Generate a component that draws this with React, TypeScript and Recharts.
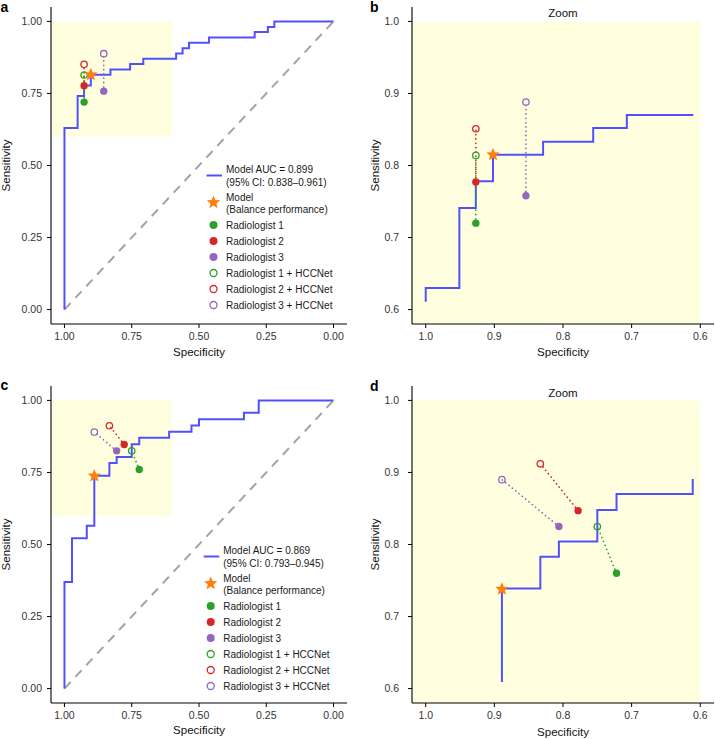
import { ComposedChart, Line, Scatter, XAxis, YAxis, ReferenceArea, ReferenceLine } from "recharts";

const FONT = '"Liberation Sans", Arial, Helvetica, sans-serif';

// ROC curve of the model, validation set (panels a, b)
const rocSpecA = [1.0, 1.0, 1.0, 0.951, 0.951, 0.927, 0.927, 0.902, 0.902, 0.829, 0.829, 0.756, 0.756, 0.707, 0.707, 0.61, 0.585, 0.585, 0.561, 0.561, 0.537, 0.537, 0.463, 0.463, 0.293, 0.293, 0.244, 0.244, 0.22, 0.22, 0.0];
const rocSensA = [0.0, 0.611, 0.63, 0.63, 0.741, 0.741, 0.778, 0.778, 0.815, 0.815, 0.833, 0.833, 0.852, 0.852, 0.87, 0.87, 0.87, 0.889, 0.889, 0.907, 0.907, 0.926, 0.926, 0.944, 0.944, 0.963, 0.963, 0.981, 0.981, 1.0, 1.0];

// ROC curve of the model, test set (panels c, d)
const rocSpecC = [1.0, 1.0, 0.972, 0.972, 0.917, 0.917, 0.889, 0.889, 0.889, 0.833, 0.833, 0.806, 0.806, 0.75, 0.75, 0.722, 0.722, 0.611, 0.611, 0.528, 0.528, 0.5, 0.5, 0.333, 0.333, 0.278, 0.278, 0.0];
const rocSensC = [0.0, 0.37, 0.37, 0.522, 0.522, 0.565, 0.565, 0.609, 0.739, 0.739, 0.783, 0.783, 0.804, 0.804, 0.848, 0.848, 0.87, 0.87, 0.891, 0.891, 0.913, 0.913, 0.935, 0.935, 0.957, 0.957, 1.0, 1.0];

const readers = ["Radiologist 1", "Radiologist 2", "Radiologist 3"];

const readerSpecA = [0.927, 0.927, 0.854];
const readerSensA = [0.72, 0.777, 0.758];
const assistedSpecA = [0.927, 0.927, 0.854];
const assistedSensA = [0.814, 0.851, 0.888];
const modelSpecA = 0.902;
const modelSensA = 0.815;

const readerSpecC = [0.722, 0.778, 0.806];
const readerSensC = [0.76, 0.847, 0.825];
const assistedSpecC = [0.75, 0.833, 0.889];
const assistedSensC = [0.825, 0.912, 0.89];
const modelSpecC = 0.889;
const modelSensC = 0.738;

const aucLabels = ["Model AUC = 0.899", "Model AUC = 0.869"];
const ciLabels = ["(95% CI: 0.838\u20130.961)", "(95% CI: 0.793\u20130.945)"];

const READER_COLORS = ["#2CA02C", "#D62728", "#9467BD"];
const ROC_COLOR = "#5050FF";
const STAR_COLOR = "#FF7F0E";
const AREA_FILL = "#FFFFE0";

type Pt = { x: number; y: number };
const toPoints = (xs: number[], ys: number[]): Pt[] => xs.map((x, i) => ({ x, y: ys[i] }));

function starPath(cx: number, cy: number, R: number, r: number) {
  let d = "";
  for (let i = 0; i < 10; i++) {
    const rad = i % 2 === 0 ? R : r;
    const a = -Math.PI / 2 + (i * Math.PI) / 5;
    d += (i === 0 ? "M" : "L") + (cx + rad * Math.cos(a)).toFixed(2) + "," + (cy + rad * Math.sin(a)).toFixed(2);
  }
  return d + "Z";
}

type PanelProps = {
  left: number;
  top: number;
  zoom: boolean;
  roc: Pt[];
  readerPts: Pt[];
  assistedPts: Pt[];
  model: Pt;
  yTickMargin: number;
  xLabelOffset: number;
  yLabelOffset: number;
};

function RocPanel({ left, top, zoom, roc, readerPts, assistedPts, model, yTickMargin, xLabelOffset, yLabelOffset }: PanelProps) {
  const lo = zoom ? 0.58 : -0.05;
  const hi = zoom ? 1.02 : 1.05;
  const ticks = zoom ? [0.6, 0.7, 0.8, 0.9, 1.0] : [0, 0.25, 0.5, 0.75, 1];
  const fmt = (v: number) => v.toFixed(zoom ? 1 : 2);
  const curve = zoom ? roc.filter((p) => p.x >= 0.6 && p.y >= 0.6) : roc;
  const tickStyle = { fontSize: 10.5, fill: "#333", fontFamily: FONT };
  const labelStyle = { fontSize: 11.5, fill: "#111", fontFamily: FONT };

  return (
    <div style={{ position: "absolute", left, top }}>
      <ComposedChart
        width={zoom ? 355 : 357}
        height={361}
        margin={{ top: 7, right: zoom ? 1 : 10, left: 0, bottom: 0 }}
      >
        <XAxis
          type="number"
          dataKey="x"
          domain={[lo, hi]}
          reversed
          ticks={ticks}
          tickFormatter={fmt}
          allowDataOverflow
          height={37}
          tickSize={4}
          tickMargin={5}
          tick={tickStyle}
          axisLine={{ stroke: "#000", strokeWidth: 1.1 }}
          tickLine={{ stroke: "#000" }}
          label={{ value: "Specificity", position: "insideBottom", offset: xLabelOffset, ...labelStyle }}
        />
        <YAxis
          type="number"
          dataKey="y"
          domain={[lo, hi]}
          ticks={ticks}
          tickFormatter={fmt}
          allowDataOverflow
          width={zoom ? 52 : 51}
          tickSize={4}
          tickMargin={yTickMargin}
          tick={tickStyle}
          axisLine={{ stroke: "#000", strokeWidth: 1.1 }}
          tickLine={{ stroke: "#000" }}
          label={{
            value: "Sensitivity",
            angle: -90,
            position: "insideLeft",
            offset: yLabelOffset,
            style: { textAnchor: "middle" },
            ...labelStyle,
          }}
        />
        <ReferenceArea x1={0.6} x2={hi} y1={zoom ? lo : 0.6} y2={1} fill={AREA_FILL} fillOpacity={1} stroke="none" />
        {!zoom && (
          <ReferenceLine
            segment={[{ x: 1, y: 0 }, { x: 0, y: 1 }]}
            stroke="#A3A3A3"
            strokeWidth={2}
            strokeDasharray="9 7"
          />
        )}
        <Line
          data={curve}
          dataKey="y"
          type="linear"
          stroke={ROC_COLOR}
          strokeWidth={2}
          dot={false}
          activeDot={false}
          isAnimationActive={false}
        />
        {readers.map((name, i) => (
          <Line
            key={"c" + name}
            data={[readerPts[i], assistedPts[i]]}
            dataKey="y"
            type="linear"
            stroke={READER_COLORS[i]}
            strokeWidth={1.7}
            strokeDasharray="0.1 4.2"
            strokeLinecap="round"
            dot={false}
            activeDot={false}
            isAnimationActive={false}
          />
        ))}
        {readers.map((name, i) => (
          <Scatter
            key={"r" + name}
            data={[readerPts[i]]}
            dataKey="y"
            isAnimationActive={false}
            shape={(p: any) => <circle cx={p.cx} cy={p.cy} r={3.7} fill={READER_COLORS[i]} />}
          />
        ))}
        {readers.map((name, i) => (
          <Scatter
            key={"h" + name}
            data={[assistedPts[i]]}
            dataKey="y"
            isAnimationActive={false}
            shape={(p: any) => (
              <circle cx={p.cx} cy={p.cy} r={3.2} fill="none" stroke={READER_COLORS[i]} strokeWidth={1.3} />
            )}
          />
        ))}
        <Scatter
          data={[model]}
          dataKey="y"
          isAnimationActive={false}
          shape={(p: any) => <path d={starPath(p.cx, p.cy, 7, 3.1)} fill={STAR_COLOR} />}
        />
      </ComposedChart>
    </div>
  );
}

function RocLegend({ sx, y0, panel }: { sx: number; y0: number; panel: number }) {
  const tx = sx + 12.5;
  const base = (c: number) => c + 3.6;
  const textProps = { fontSize: 10, fill: "#1a1a1a", fontFamily: FONT };
  return (
    <g>
      <line x1={sx - 7} x2={sx + 8.5} y1={y0 + 6.5} y2={y0 + 6.5} stroke={ROC_COLOR} strokeWidth={2} />
      <text x={tx} y={base(y0)} {...textProps}>{aucLabels[panel]}</text>
      <text x={tx} y={base(y0 + 13)} {...textProps}>{ciLabels[panel]}</text>
      <path d={starPath(sx, y0 + 33.5, 7, 3.1)} fill={STAR_COLOR} />
      <text x={tx} y={base(y0 + 28)} {...textProps}>Model</text>
      <text x={tx} y={base(y0 + 40.5)} {...textProps}>(Balance performance)</text>
      {readers.map((name, i) => (
        <g key={name}>
          <circle cx={sx} cy={y0 + 56 + 16 * i} r={4} fill={READER_COLORS[i]} />
          <text x={tx} y={base(y0 + 56 + 16 * i)} {...textProps}>{name}</text>
        </g>
      ))}
      {readers.map((name, i) => (
        <g key={name + "h"}>
          <circle cx={sx} cy={y0 + 104 + 16 * i} r={3.5} fill="none" stroke={READER_COLORS[i]} strokeWidth={1.3} />
          <text x={tx} y={base(y0 + 104 + 16 * i)} {...textProps}>{name + " + HCCNet"}</text>
        </g>
      ))}
    </g>
  );
}

export default function App() {
  const rocA = toPoints(rocSpecA, rocSensA);
  const rocC = toPoints(rocSpecC, rocSensC);
  const readerA = toPoints(readerSpecA, readerSensA);
  const assistedA = toPoints(assistedSpecA, assistedSensA);
  const readerC = toPoints(readerSpecC, readerSensC);
  const assistedC = toPoints(assistedSpecC, assistedSensC);
  const modelA = { x: modelSpecA, y: modelSensA };
  const modelC = { x: modelSpecC, y: modelSensC };
  const letter = { fontSize: 14, fontWeight: 700, fill: "#000", fontFamily: FONT };
  const zoomTitle = { fontSize: 11.5, fill: "#111", fontFamily: FONT, textAnchor: "middle" as const };

  return (
    <div style={{ position: "absolute", left: 0, top: 0, width: 715, height: 739, overflow: "hidden", background: "#fff" }}>
      <RocPanel left={0} top={0} zoom={false} roc={rocA} readerPts={readerA} assistedPts={assistedA} model={modelA} yTickMargin={5} xLabelOffset={5} yLabelOffset={5.5} />
      <RocPanel left={360} top={0} zoom roc={rocA} readerPts={readerA} assistedPts={assistedA} model={modelA} yTickMargin={9} xLabelOffset={5} yLabelOffset={15} />
      <RocPanel left={0} top={379} zoom={false} roc={rocC} readerPts={readerC} assistedPts={assistedC} model={modelC} yTickMargin={5} xLabelOffset={6} yLabelOffset={5.5} />
      <RocPanel left={360} top={379} zoom roc={rocC} readerPts={readerC} assistedPts={assistedC} model={modelC} yTickMargin={9} xLabelOffset={4.5} yLabelOffset={15} />
      <svg width={715} height={739} style={{ position: "absolute", left: 0, top: 0, pointerEvents: "none" }}>
        <text x={0.5} y={11.5} {...letter}>a</text>
        <text x={370} y={11.5} {...letter}>b</text>
        <text x={0.5} y={390} {...letter}>c</text>
        <text x={370} y={390.5} {...letter}>d</text>
        <text x={563} y={17} {...zoomTitle}>Zoom</text>
        <text x={563} y={396.5} {...zoomTitle}>Zoom</text>
        <RocLegend sx={213.5} y0={169} panel={0} />
        <RocLegend sx={210.7} y0={550} panel={1} />
      </svg>
    </div>
  );
}
